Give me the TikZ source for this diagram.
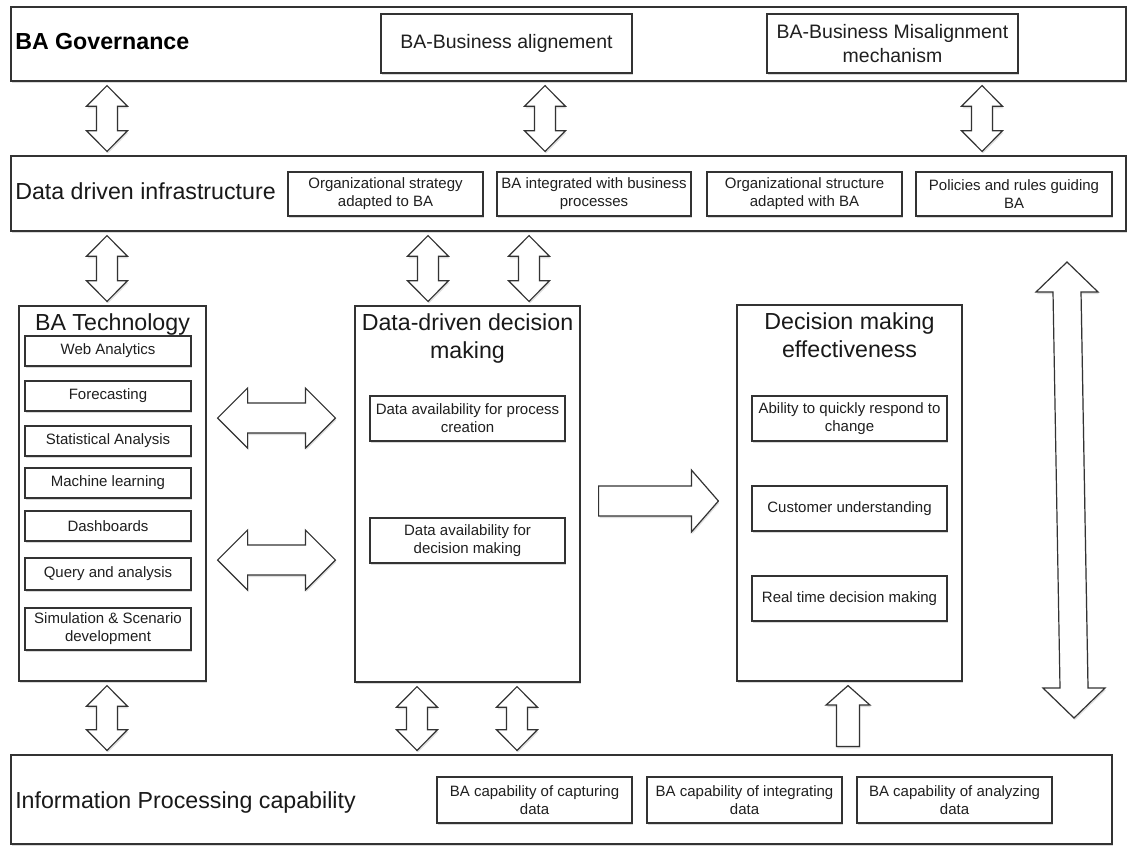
\documentclass[tikz,border=0pt]{standalone}
\usepackage{fontspec}
\setmainfont{Liberation Sans}
\usetikzlibrary{shadows,calc}
\newcommand{\fbig}{\fontsize{17.4}{21}\selectfont}
\newcommand{\fmed}{\fontsize{14.6}{18}\selectfont}
\newcommand{\fsm}{\fontsize{11.25}{13.6}\selectfont}
\tikzset{
  bx/.style={draw=black!80, line width=0.9pt, fill=white, inner sep=0pt, align=center, text=black!88,
    drop shadow={shadow xshift=0.7pt, shadow yshift=-1.8pt, opacity=0.3}},
  subbox/.style={bx, font=\fsm},
  medbox/.style={bx, font=\fmed},
  ttl/.style={inner sep=0pt, font=\fbig, text=black!90, align=center},
  blk/.style={draw=black!80, line width=0.9pt, fill=white, line join=miter,
    drop shadow={shadow xshift=0.7pt, shadow yshift=-1.5pt, opacity=0.25}}
}
% box from (x1,y1) to (x2,y2) in px
\newcommand{\bxn}[7][bx]{%
  \node[#1, minimum width={(#5-#3)*0.75pt}, minimum height={(#6-#4)*0.75pt}] (#2) at ({(#3+#5)/2},{(#4+#6)/2}) {#7};}
% vertical double block arrow at x (px) from bottom of node #2 to top of node #3
\newcommand{\vdbl}[3]{%
  \draw[blk] let \p0=(#1,0), \p1=(#2.south), \p2=(#3.north) in
    (\x0,\y1-3pt) -- ++(15.4pt,-15.5pt) -- ++(-7.5pt,0pt) -- (\x0+7.9pt,\y2+18.5pt) -- ++(7.5pt,0pt)
    -- (\x0,\y2+3pt) -- ++(-15.4pt,15.5pt) -- ++(7.5pt,0pt) -- (\x0-7.9pt,\y1-18.5pt) -- ++(-7.5pt,0pt) -- cycle;}
% horizontal double block arrow at y (px) from east of node #1 to west of node #2
\newcommand{\hdbl}[3]{%
  \draw[blk] let \p0=(0,#3), \p1=(#1.east), \p2=(#2.west) in
    (\x1+8.25pt,\y0) -- ++(22.5pt,22.5pt) -- ++(0pt,-11.25pt) -- (\x2-36.75pt,\y0+11.25pt) -- ++(0pt,11.25pt)
    -- (\x2-14.25pt,\y0) -- ++(-22.5pt,-22.5pt) -- ++(0pt,11.25pt) -- (\x1+30.75pt,\y0-11.25pt) -- ++(0pt,-11.25pt) -- cycle;}
\begin{document}
\begin{tikzpicture}[x=0.75pt,y=-0.75pt]
\useasboundingbox (0,0) rectangle (1130,846);

% ---------- BA Governance ----------
\bxn{gov}{11}{7}{1126}{81}{}
\node[anchor=base west, inner sep=0pt, font=\fbig\bfseries, text=black] (govt) at (15,49) {BA Governance};
\bxn[medbox]{align}{381}{14}{632}{73}{BA-Business alignement}
\bxn[medbox]{misal}{767}{14}{1018}{73}{BA-Business Misalignment\\mechanism}

% ---------- Data driven infrastructure ----------
\bxn{infra}{11}{156}{1126}{231}{}
\node[anchor=base west, inner sep=0pt, font=\fbig, text=black!90] (infrat) at (15,199) {Data driven infrastructure};
\bxn[subbox]{s1}{288}{172}{483}{216}{Organizational strategy\\adapted to BA}
\bxn[subbox]{s2}{497}{172}{691}{216}{BA integrated with business\\processes}
\bxn[subbox]{s3}{707}{172}{902}{216}{Organizational structure\\adapted with BA}
\bxn[subbox]{s4}{916}{172}{1112}{216}{Policies and rules guiding\\BA}

% ---------- BA Technology ----------
\bxn{tech}{19}{306}{206}{681}{}
\node[ttl, anchor=north] (techt) at (112.5,313) {BA Technology};
\bxn[subbox]{t1}{25}{336}{191}{366}{Web Analytics}
\bxn[subbox]{t2}{25}{381}{191}{411}{Forecasting}
\bxn[subbox]{t3}{25}{426}{191}{456}{Statistical Analysis}
\bxn[subbox]{t4}{25}{468}{191}{498}{Machine learning}
\bxn[subbox]{t5}{25}{511}{191}{541}{Dashboards}
\bxn[subbox]{t6}{25}{558}{191}{590}{Query and analysis}
\bxn[subbox]{t7}{25}{608}{191}{650}{Simulation \& Scenario\\development}

% ---------- Data-driven decision making ----------
\bxn{ddm}{355}{306}{580}{682}{}
\node[ttl, anchor=north] (ddmt) at (467.5,313) {Data-driven decision\\making};
\bxn[subbox]{d1}{370}{396}{565}{441}{Data availability for process\\creation}
\bxn[subbox]{d2}{370}{518}{565}{563}{Data availability for\\decision making}

% ---------- Decision making effectiveness ----------
\bxn{dme}{737}{305}{962}{681}{}
\node[ttl, anchor=north] (dmet) at (849.5,312) {Decision making\\effectiveness};
\bxn[subbox]{e1}{752}{396}{947}{441}{Ability to quickly respond to\\change}
\bxn[subbox]{e2}{752}{486}{947}{531}{Customer understanding}
\bxn[subbox]{e3}{752}{576}{947}{621}{Real time decision making}

% ---------- Information Processing capability ----------
\bxn{ipc}{11}{755}{1112}{844}{}
\node[anchor=base west, inner sep=0pt, font=\fbig, text=black!90] (ipct) at (15,808) {Information Processing capability};
\bxn[subbox]{c1}{437}{777}{632}{823}{BA capability of capturing\\data}
\bxn[subbox]{c2}{647}{777}{842}{823}{BA capability of integrating\\data}
\bxn[subbox]{c3}{857}{777}{1052}{823}{BA capability of analyzing\\data}

% ---------- block arrows ----------
\vdbl{107}{gov}{infra}
\vdbl{545}{gov}{infra}
\vdbl{982}{gov}{infra}
\vdbl{107}{infra}{tech}
\vdbl{428}{infra}{ddm}
\vdbl{529}{infra}{ddm}
\vdbl{107}{tech}{ipc}
\vdbl{417}{ddm}{ipc}
\vdbl{517}{ddm}{ipc}
\hdbl{tech}{ddm}{418}
\hdbl{tech}{ddm}{560}

% single arrow ddm -> dme
\draw[blk] let \p0=(0,501), \p1=(ddm.east), \p2=(dme.west) in
  (\x1+13.5pt,\y0+11.25pt) -- (\x2-33.75pt,\y0+11.25pt) -- ++(0pt,12pt) -- (\x2-13.5pt,\y0)
  -- (\x2-33.75pt,\y0-23.25pt) -- ++(0pt,12pt) -- (\x1+13.5pt,\y0-11.25pt) -- cycle;

% up arrow ipc -> dme
\draw[blk] let \p0=(848,0), \p1=(ipc.north), \p2=(dme.south) in
  (\x0-8.6pt,\y1+6pt) -- (\x0-8.6pt,\y2-17.6pt) -- ++(-7.9pt,0pt) -- (\x0,\y2-3pt)
  -- (\x0+16.5pt,\y2-17.6pt) -- ++(-7.9pt,0pt) -- (\x0+8.6pt,\y1+6pt) -- cycle;

% big double arrow on the right
\coordinate (bt) at (1067,262);
\coordinate (bb) at (1074,718);
\draw[blk] let \p1=(bt), \p2=(bb) in
  (\x1,\y1) -- ++(23.25pt,-22.5pt) -- ++(-12.75pt,0pt) -- (\x2+10.5pt,\y2+22.5pt) -- ++(12.75pt,0pt)
  -- (\x2,\y2) -- ++(-23.25pt,22.5pt) -- ++(12.75pt,0pt) -- (\x1-10.5pt,\y1-22.5pt) -- ++(-12.75pt,0pt) -- cycle;
\end{tikzpicture}
\end{document}
